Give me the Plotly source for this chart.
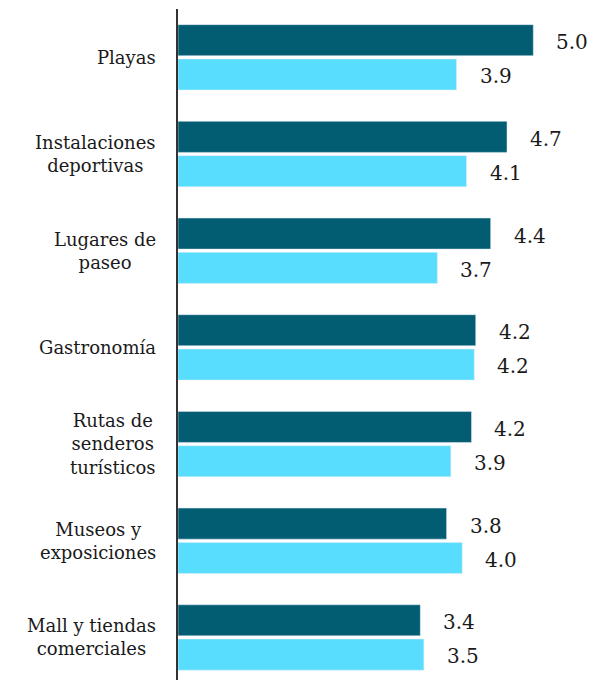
import plotly.graph_objects as go

categories = ["Playas", "Instalaciones<br>deportivas", "Lugares de<br>paseo", "Gastronomía",
              "Rutas de<br>senderos<br>turísticos", "Museos y<br>exposiciones", "Mall y tiendas<br>comerciales"]
series_a = [5.00, 4.63, 4.40, 4.19, 4.13, 3.78, 3.41]
series_b = [3.92, 4.06, 3.65, 4.17, 3.84, 4.00, 3.46]
labels_a = ["5.0", "4.7", "4.4", "4.2", "4.2", "3.8", "3.4"]
labels_b = ["3.9", "4.1", "3.7", "4.2", "3.9", "4.0", "3.5"]

DARK = "#025D73"
LIGHT = "#58DDFE"
FONT = "DejaVu Serif"

fig = go.Figure()
fig.add_trace(go.Bar(y=categories, x=series_a, orientation="h", marker_color=DARK,
                     name="A", hoverinfo="skip"))
fig.add_trace(go.Bar(y=categories, x=series_b, orientation="h", marker_color=LIGHT,
                     name="B", hoverinfo="skip"))

annotations = []
for c, va, vb, la, lb in zip(categories, series_a, series_b, labels_a, labels_b):
    annotations.append(dict(x=va, y=c, xref="x", yref="y", text=la, showarrow=False,
                            xanchor="left", yanchor="middle", xshift=21, yshift=15,
                            font=dict(family=FONT, size=20, color="#1a1a1a")))
    annotations.append(dict(x=vb, y=c, xref="x", yref="y", text=lb, showarrow=False,
                            xanchor="left", yanchor="middle", xshift=21, yshift=-19,
                            font=dict(family=FONT, size=20, color="#1a1a1a")))
    annotations.append(dict(x=0, y=c, xref="paper", yref="y", text=c, showarrow=False,
                            xanchor="right", yanchor="middle", xshift=-20, align="center",
                            font=dict(family=FONT, size=18, color="#1a1a1a")))

fig.update_layout(
    width=591, height=680,
    margin=dict(l=178, r=0, t=9, b=0),
    paper_bgcolor="white", plot_bgcolor="white",
    barmode="group", bargap=0.29, bargroupgap=0.095,
    showlegend=False,
    annotations=annotations,
    xaxis=dict(range=[0, 5.812], showgrid=False, zeroline=False, showticklabels=False,
               ticks="", showline=False, fixedrange=True),
    yaxis=dict(type="category", range=[6.44, -0.5], showgrid=False, zeroline=False,
               showticklabels=False, ticks="", showline=True, linecolor="#333333",
               linewidth=2, fixedrange=True),
)

fig.write_html(
    "out.html",
    config={"displayModeBar": False},
    post_script="document.body.style.margin='0';document.body.style.overflow='hidden';",
)
